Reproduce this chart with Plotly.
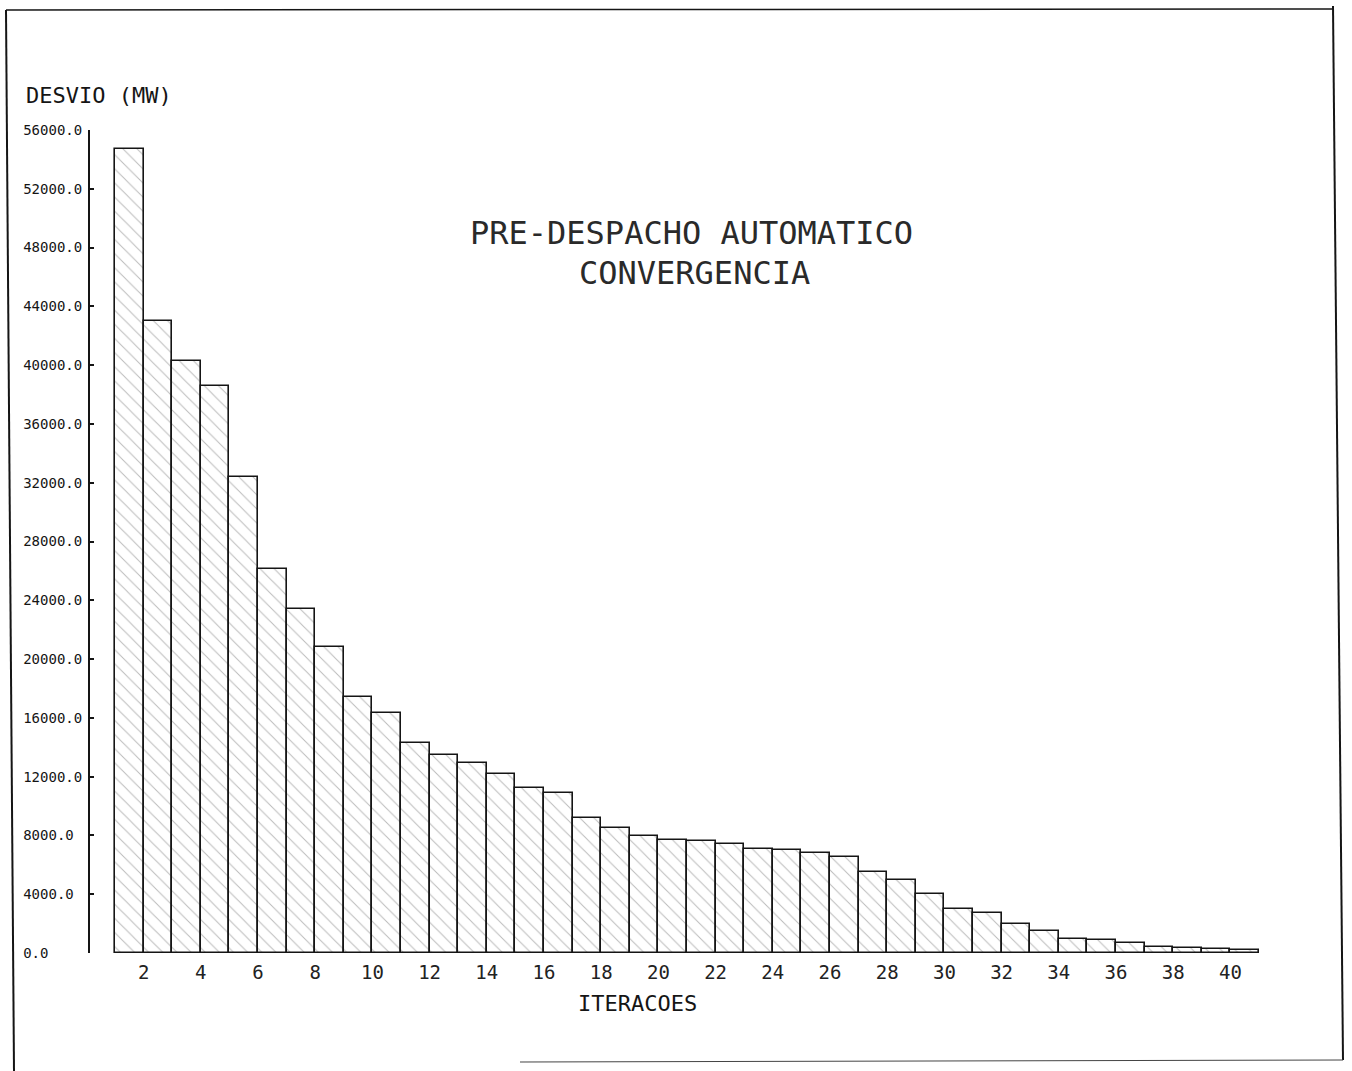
import plotly.graph_objects as go

# ---- data ----
iterations = list(range(1, 41))
desvio_mw = [54700, 43000, 40300, 38600, 32400, 26100, 23400, 20800, 17400, 16300,
             14300, 13500, 12900, 12200, 11200, 10900, 9200, 8500, 7950, 7700,
             7600, 7400, 7050, 7000, 6800, 6550, 5500, 4950, 4000, 3000,
             2700, 1950, 1500, 950, 880, 680, 420, 340, 270, 200]
y_tick_vals = [0, 4000, 8000, 12000, 16000, 20000, 24000, 28000, 32000, 36000,
               40000, 44000, 48000, 52000, 56000]
y_tick_text = ["0.0", "4000.0", "8000.0", "12000.0", "16000.0", "20000.0", "24000.0",
               "28000.0", "32000.0", "36000.0", "40000.0", "44000.0", "48000.0",
               "52000.0", "56000.0"]
x_tick_vals = list(range(2, 41, 2))
x_tick_text = [str(v) for v in x_tick_vals]

W, H = 1352, 1071
L, R, T, B = 90, 90, 130, 118
PW, PH = W - L - R, H - T - B

def px(x):
    return (x - L) / PW

def py(y):
    return 1 - (y - T) / PH

FONT = "DejaVu Sans Mono"
INK = "#151515"

# left-align the y tick labels (monospace + non-breaking space padding)
y_tick_padded = [t + "\u00a0" * (7 - len(t)) for t in y_tick_text]

fig = go.Figure()
fig.add_trace(go.Bar(
    x=[i + 0.5 for i in iterations],
    y=desvio_mw,
    width=1,
    marker=dict(
        color="white",
        line=dict(color=INK, width=1.6),
        pattern=dict(shape="\\", fgcolor="#777777", bgcolor="white", size=10, solidity=0.1),
    ),
    hoverinfo="x+y",
))

x0 = 1 - 25 / 28.6
x1 = x0 + PW / 28.6

def ann(text, x, y, size, xanchor="center", color=INK):
    return dict(text=text, x=px(x), y=py(y), xref="paper", yref="paper",
                xanchor=xanchor, yanchor="middle", showarrow=False,
                font=dict(family=FONT, size=size, color=color))

fig.update_layout(
    width=W, height=H,
    margin=dict(l=L, r=R, t=T, b=B),
    paper_bgcolor="white", plot_bgcolor="white",
    showlegend=False,
    bargap=0,
    xaxis=dict(range=[x0, x1], showgrid=False, zeroline=False, showline=False,
               tickvals=x_tick_vals, ticktext=x_tick_text, ticks="",
               tickfont=dict(family=FONT, size=19, color="#222222"), ticklabelstandoff=6),
    yaxis=dict(range=[0, 56000], showgrid=False, zeroline=False, showline=True,
               linecolor=INK, linewidth=2,
               tickvals=y_tick_vals, ticktext=y_tick_padded, ticks="inside",
               ticklen=4, tickcolor=INK, tickwidth=1.5,
               tickfont=dict(family=FONT, size=14, color=INK), ticklabelstandoff=3),
    annotations=[
        ann("PRE-DESPACHO AUTOMATICO", 691, 233, 32, color="#2a2a2a"),
        ann("CONVERGENCIA", 694, 273, 32, color="#2a2a2a"),
        ann("DESVIO (MW)", 24, 96, 22, xanchor="left"),
        ann("ITERACOES", 637, 1003, 22),
    ],
    shapes=[
        dict(type="line", xref="paper", yref="paper", x0=px(6), y0=py(10), x1=px(1333), y1=py(9),
             line=dict(color=INK, width=1.5)),
        dict(type="line", xref="paper", yref="paper", x0=px(6), y0=py(10), x1=px(14), y1=py(1071),
             line=dict(color=INK, width=2)),
        dict(type="line", xref="paper", yref="paper", x0=px(1333), y0=py(6), x1=px(1343), y1=py(1060),
             line=dict(color=INK, width=2)),
        dict(type="line", xref="paper", yref="paper", x0=px(520), y0=py(1062), x1=px(1343), y1=py(1060),
             line=dict(color="#444444", width=1)),
    ],
)

fig.write_html("out.html", config={"displayModeBar": False},
               post_script="document.body.style.margin='0';")
